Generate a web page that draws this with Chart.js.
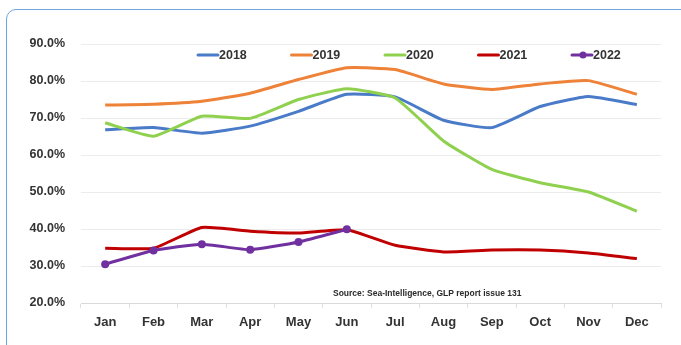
<!DOCTYPE html>
<html>
<head>
<meta charset="utf-8">
<script src="https://cdn.jsdelivr.net/npm/chart.js@4.4.1/dist/chart.umd.min.js"></script>
<style>
  html, body { margin: 0; padding: 0; background: #ffffff; }
  body { width: 681px; height: 345px; position: relative; overflow: hidden; }
  #card { position: absolute; left: 6px; top: 9px; width: 700px; height: 360px;
          border: 1.5px solid #6ea6dc; border-radius: 10px; box-sizing: border-box; }
  #wrap { position: absolute; left: 0; top: 0; width: 681px; height: 345px; }
</style>
</head>
<body>
<div id="card"></div>
<div id="wrap"><canvas id="c" width="681" height="345"></canvas></div>
<script>
const months = ['Jan','Feb','Mar','Apr','May','Jun','Jul','Aug','Sep','Oct','Nov','Dec'];
const s2018 = [66.8, 67.4, 65.9, 67.8, 71.8, 76.4, 75.7, 69.4, 67.4, 73.1, 75.8, 73.6];
const s2019 = [73.5, 73.7, 74.5, 76.7, 80.4, 83.6, 83.1, 79.2, 77.7, 79.2, 80.1, 76.4];
const s2020 = [68.7, 65.1, 70.5, 69.9, 75.0, 77.9, 75.4, 63.8, 56.1, 52.5, 50.0, 44.8];
const s2021 = [34.8, 34.8, 40.4, 39.4, 38.9, 39.8, 35.6, 33.8, 34.3, 34.3, 33.5, 32.0];
const s2022 = [30.5, 34.2, 35.9, 34.4, 36.5, 39.9];
const yTicks = [20, 30, 40, 50, 60, 70, 80, 90];
const sourceNote = 'Source: Sea-Intelligence, GLP report issue 131';

const seriesLabels = ['2018', '2019', '2020', '2021', '2022'];
const seriesData = [s2018, s2019, s2020, s2021, s2022];
const seriesColors = ['#4a7bc8', '#ee8238', '#8fd14f', '#c00000', '#7030a0'];

const FONT = '"Liberation Sans", Arial, sans-serif';
const TEXT = '#333333';

const datasets = seriesLabels.map((lab, i) => ({
  label: lab,
  data: seriesData[i],
  borderColor: seriesColors[i],
  backgroundColor: seriesColors[i],
  borderWidth: 3,
  tension: 0.15,
  pointRadius: lab === '2022' ? 4 : 0,
  pointHoverRadius: lab === '2022' ? 4 : 0,
  pointBorderWidth: 0,
  fill: false,
  order: 5 - i
}));

const customLegend = {
  id: 'customLegend',
  afterDraw(chart) {
    const ctx = chart.ctx;
    const ca = chart.chartArea;
    const y = ca.top + 11;
    ctx.save();
    ctx.font = 'bold 12.5px ' + FONT;
    ctx.textBaseline = 'middle';
    ctx.textAlign = 'left';
    chart.data.datasets.forEach((ds, i) => {
      const x0 = ca.left + 117 + i * 93.5;
      ctx.strokeStyle = ds.borderColor;
      ctx.lineWidth = 3;
      ctx.lineCap = 'round';
      ctx.beginPath();
      ctx.moveTo(x0, y);
      ctx.lineTo(x0 + 20, y);
      ctx.stroke();
      if (ds.pointRadius > 0) {
        ctx.fillStyle = ds.borderColor;
        ctx.beginPath();
        ctx.arc(x0 + 11, y, 3.5, 0, Math.PI * 2);
        ctx.fill();
      }
      ctx.fillStyle = TEXT;
      ctx.fillText(ds.label, x0 + 21, y + 0.5);
    });
    // source note
    ctx.font = 'bold 8.5px ' + FONT;
    ctx.fillStyle = '#2a2a2a';
    ctx.fillText(sourceNote, ca.left + 252, ca.bottom - 9, 200);
    ctx.restore();
  }
};

new Chart(document.getElementById('c'), {
  type: 'line',
  data: { labels: months, datasets },
  options: {
    responsive: false,
    animation: false,
    events: [],
    layout: { padding: { left: 0, right: 20, top: 44, bottom: 14 } },
    plugins: { legend: { display: false }, tooltip: { enabled: false } },
    scales: {
      x: {
        offset: true,
        grid: { display: true, drawOnChartArea: false, drawTicks: true, tickLength: 5, offset: true, color: '#e0e0e0' },
        border: { display: true, color: '#d9d9d9', width: 1 },
        ticks: { padding: 7, color: TEXT, font: { family: FONT, size: 13, weight: 'bold' } },
        afterFit(scale) { scale.height = 28; }
      },
      y: {
        min: 20, max: 90,
        afterBuildTicks(scale) { scale.ticks = yTicks.map(v => ({ value: v })); },
        grid: { color: '#ececec', drawTicks: false, lineWidth: 1 },
        border: { display: false },
        ticks: {
          padding: 16, color: TEXT,
          font: { family: FONT, size: 12.5, weight: 'bold' },
          callback: v => v.toFixed(1) + '%'
        },
        afterFit(scale) { scale.width = 81; }
      }
    }
  },
  plugins: [customLegend]
});
</script>
</body>
</html>
